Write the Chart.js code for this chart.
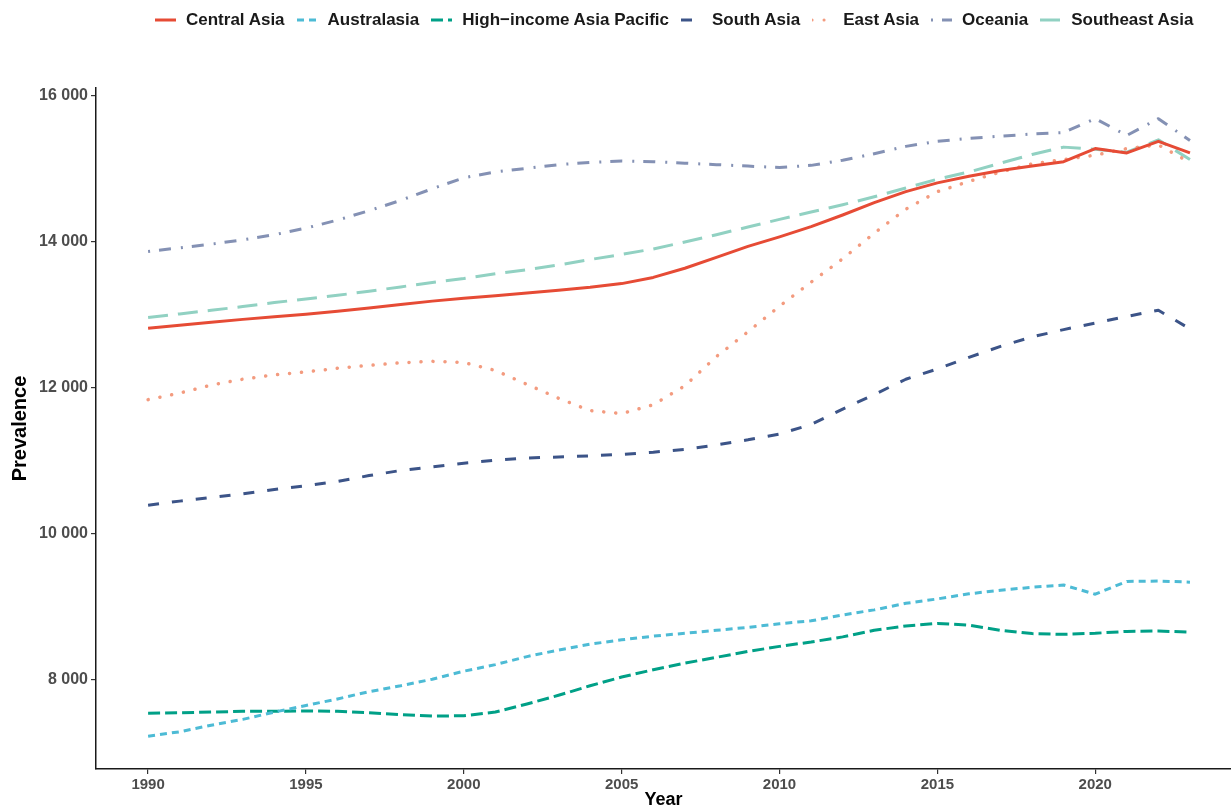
<!DOCTYPE html>
<html>
<head>
<meta charset="utf-8">
<script src="https://cdn.jsdelivr.net/npm/chart.js@4"></script>
<style>
  html, body { margin: 0; padding: 0; background: #fff; }
  #wrap { position: relative; width: 1231px; height: 809px; overflow: hidden; }
  #legend {
    position: absolute; left: 155px; top: 10px;
    display: flex; align-items: center; white-space: nowrap;
    font: bold 17px "Liberation Sans", Arial, sans-serif; color: #1a1a1a;
  }
  .item { display: flex; align-items: center; margin-right: 12px; }
  .item svg { margin-right: 10px; }
  canvas { display: block; }
</style>
</head>
<body>
<div id="wrap">
  <div id="legend"></div>
  <canvas id="chart" width="1231" height="809"></canvas>
</div>
<script>
// Years on the x axis
const years = [1990, 1991, 1992, 1993, 1994, 1995, 1996, 1997, 1998, 1999,
               2000, 2001, 2002, 2003, 2004, 2005, 2006, 2007, 2008, 2009,
               2010, 2011, 2012, 2013, 2014, 2015, 2016, 2017, 2018, 2019,
               2020, 2021, 2022, 2023];

// Prevalence by region
const centralAsia = [12810, 12850, 12890, 12930, 12965, 13000, 13040, 13085, 13135, 13180,
                     13220, 13255, 13290, 13330, 13370, 13420, 13505, 13630, 13780, 13930,
                     14060, 14200, 14360, 14530, 14680, 14800, 14890, 14970, 15030, 15090,
                     15270, 15210, 15370, 15210];
const australasia = [7220, 7280, 7370, 7450, 7550, 7640, 7730, 7830, 7910, 8000,
                     8110, 8200, 8310, 8400, 8480, 8540, 8590, 8630, 8670, 8710,
                     8760, 8800, 8880, 8950, 9040, 9100, 9170, 9220, 9260, 9290,
                     9165, 9340, 9345, 9330];
const highIncomeAP = [7535, 7540, 7550, 7560, 7560, 7565, 7560, 7540, 7515, 7495,
                      7500, 7550, 7660, 7780, 7910, 8030, 8130, 8220, 8300, 8380,
                      8450, 8510, 8580, 8670, 8730, 8765, 8740, 8670, 8625, 8615,
                      8630, 8655, 8660, 8645];
const southAsia = [10385, 10440, 10490, 10540, 10600, 10650, 10710, 10790, 10860, 10910,
                   10960, 11000, 11030, 11045, 11060, 11080, 11110, 11150, 11210, 11280,
                   11360, 11490, 11700, 11900, 12110, 12250, 12410, 12560, 12690, 12790,
                   12880, 12970, 13055, 12800];
const eastAsia = [11830, 11920, 12030, 12110, 12170, 12210, 12260, 12300, 12335, 12355,
                  12340, 12230, 12040, 11850, 11680, 11640, 11760, 12020, 12420, 12760,
                  13110, 13440, 13760, 14110, 14440, 14680, 14820, 14950, 15060, 15120,
                  15180, 15270, 15320, 15080];
const oceania = [13860, 13910, 13960, 14020, 14090, 14180, 14290, 14420, 14560, 14720,
                 14870, 14950, 15000, 15050, 15080, 15100, 15090, 15070, 15050, 15030,
                 15010, 15040, 15110, 15200, 15300, 15370, 15410, 15440, 15470, 15490,
                 15680, 15450, 15680, 15380];
const southeastAsia = [12955, 13005, 13055, 13105, 13160, 13210, 13260, 13315, 13375, 13435,
                       13490, 13555, 13610, 13675, 13750, 13820, 13895, 13990, 14090, 14195,
                       14300, 14400, 14500, 14610, 14730, 14850, 14950, 15070, 15190, 15290,
                       15260, 15220, 15390, 15120];

const regionNames = ['Central Asia', 'Australasia', 'High\u2212income Asia Pacific', 'South Asia',
                     'East Asia', 'Oceania', 'Southeast Asia'];
const regionValues = [centralAsia, australasia, highIncomeAP, southAsia, eastAsia, oceania, southeastAsia];
const regionColors = ['#E64B35', '#4DBBD5', '#00A087', '#3C5488', '#F39B7F', '#8491B4', '#91D1C2'];
const regionDashes = [[], [7, 5], [12, 5], [11, 13], [0.1, 11.9], [2, 9, 12, 10], [20, 10]];
const regionCaps = ['butt', 'butt', 'butt', 'butt', 'round', 'butt', 'butt'];
const regionWidths = [3, 3, 3, 3, 3.5, 3, 3];

const xTicks = [1990, 1995, 2000, 2005, 2010, 2015, 2020];
const yTicks = [8000, 10000, 12000, 14000, 16000];

const FONT = '"Liberation Sans", Arial, sans-serif';
const fmtThousands = v => String(v).replace(/\B(?=(\d{3})+(?!\d))/g, ' ');

const datasets = regionNames.map((name, i) => ({
  label: name,
  data: years.map((y, j) => ({ x: y, y: regionValues[i][j] })),
  borderColor: regionColors[i],
  backgroundColor: regionColors[i],
  borderWidth: regionWidths[i],
  borderDash: regionDashes[i],
  borderCapStyle: regionCaps[i],
  borderJoinStyle: 'round',
  pointRadius: 0,
  pointHoverRadius: 0,
  tension: 0,
  fill: false
}));

// Legend row with line-style swatches
const legendEl = document.getElementById('legend');
regionNames.forEach((name, i) => {
  const item = document.createElement('div');
  item.className = 'item';
  const svgNS = 'http://www.w3.org/2000/svg';
  const svg = document.createElementNS(svgNS, 'svg');
  svg.setAttribute('width', '21');
  svg.setAttribute('height', '10');
  const line = document.createElementNS(svgNS, 'line');
  line.setAttribute('x1', '0'); line.setAttribute('x2', '21');
  line.setAttribute('y1', '5'); line.setAttribute('y2', '5');
  line.setAttribute('stroke', regionColors[i]);
  line.setAttribute('stroke-width', '3');
  line.setAttribute('stroke-linecap', regionCaps[i]);
  if (regionDashes[i].length) line.setAttribute('stroke-dasharray', regionDashes[i].join(' '));
  svg.appendChild(line);
  const label = document.createElement('span');
  label.textContent = name;
  item.appendChild(svg);
  item.appendChild(label);
  legendEl.appendChild(item);
});

new Chart(document.getElementById('chart'), {
  type: 'line',
  data: { datasets },
  options: {
    responsive: false,
    animation: false,
    devicePixelRatio: 1,
    layout: { padding: { top: 88, right: 0, left: 0, bottom: 0 } },
    plugins: { legend: { display: false }, tooltip: { enabled: false } },
    scales: {
      x: {
        type: 'linear',
        min: 1988.35,
        max: 2024.3,
        afterBuildTicks: s => { s.ticks = xTicks.map(v => ({ value: v })); },
        afterFit: s => { s.height = 40; },
        ticks: {
          callback: v => String(v),
          color: '#4d4d4d',
          font: { family: FONT, size: 15, weight: 'bold' },
          padding: 2,
          maxRotation: 0,
          autoSkip: false
        },
        grid: { display: true, drawOnChartArea: false, drawTicks: true, tickLength: 5, color: '#333333', lineWidth: 1.2 },
        border: { display: true, color: '#1a1a1a', width: 1.5 },
        title: {
          display: true, text: 'Year', color: '#000000',
          font: { family: FONT, size: 18, weight: 'bold', lineHeight: 1 },
          padding: { top: 0, bottom: 0 }
        }
      },
      y: {
        type: 'linear',
        min: 6770,
        max: 16100,
        afterBuildTicks: s => { s.ticks = yTicks.map(v => ({ value: v })); },
        afterFit: s => { s.width = 96; },
        ticks: {
          callback: v => fmtThousands(v),
          color: '#4d4d4d',
          font: { family: FONT, size: 16, weight: 'bold' },
          padding: 3
        },
        grid: { display: true, drawOnChartArea: false, drawTicks: true, tickLength: 5, color: '#333333', lineWidth: 1.2 },
        border: { display: true, color: '#1a1a1a', width: 1.5 },
        title: {
          display: true, text: 'Prevalence', color: '#000000',
          font: { family: FONT, size: 20, weight: 'bold', lineHeight: 1 },
          padding: { top: 10, bottom: 0 }
        }
      }
    }
  }
});
</script>
</body>
</html>
